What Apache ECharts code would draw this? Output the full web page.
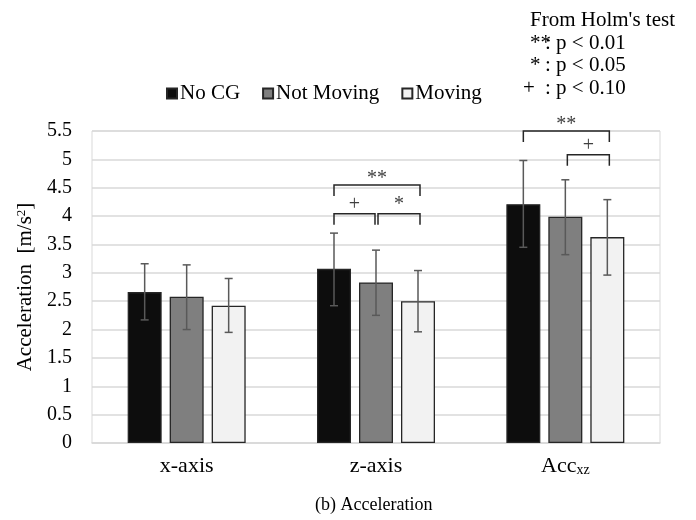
<!DOCTYPE html>
<html>
<head>
<meta charset="utf-8">
<script src="https://cdn.jsdelivr.net/npm/echarts@6/dist/echarts.min.js"></script>
<style>html,body{margin:0;padding:0;background:#fff}#c{width:696px;height:520px}</style>
</head>
<body>
<div id="c"></div>
<script>
// ---- data ----
var categories = ['x-axis', 'z-axis', 'Acc'];
var seriesNames = ['No CG', 'Not Moving', 'Moving'];
var noCG = [2.66, 3.07, 4.21];
var notMoving = [2.58, 2.83, 3.99];
var moving = [2.42, 2.50, 3.63];
var noCGErr = [[2.17, 3.16], [2.42, 3.70], [3.45, 4.98]];
var notMovingErr = [[2.00, 3.14], [2.25, 3.40], [3.32, 4.64]];
var movingErr = [[1.95, 2.90], [1.96, 3.04], [2.96, 4.29]];
var yTicks = [0, 0.5, 1, 1.5, 2, 2.5, 3, 3.5, 4, 4.5, 5, 5.5];
// brackets: [category, fromBar, toBar, topValue, label]
var brackets = [
  [1, 0, 2, 4.55, '**'],
  [1, 0, 1, 4.04, '+'],
  [1, 1, 2, 4.04, '*'],
  [2, 0, 2, 5.50, '**'],
  [2, 1, 2, 5.08, '+']
];
var noteLines = [['', "From Holm's test"], ['**', ': p < 0.01'], ['*', ': p < 0.05'], ['+', ': p < 0.10']];

// ---- style ----
var FONT = 'Liberation Serif';
var colors = ['#0d0d0d', '#7f7f7f', '#f2f2f2'];
var BAR_W = 34, GAP_PX = 8;
var STEP = BAR_W + GAP_PX;

var values = [noCG, notMoving, moving];
var errs = [noCGErr, notMovingErr, movingErr];

var series = [];
seriesNames.forEach(function (n, i) {
  series.push({
    name: n, type: 'bar', data: values[i],
    barWidth: BAR_W, barGap: (GAP_PX / BAR_W * 100) + '%',
    itemStyle: { color: colors[i], borderColor: '#262626', borderWidth: 1.3 },
    z: 2
  });
});
seriesNames.forEach(function (n, i) {
  series.push({
    type: 'custom', name: n + ' err', silent: true, z: 5,
    data: errs[i].map(function (e, k) { return [k, e[0], e[1]]; }),
    renderItem: function (params, api) {
      var lo = api.coord([api.value(0), api.value(1)]);
      var hi = api.coord([api.value(0), api.value(2)]);
      var x = lo[0] + (i - 1) * STEP;
      var st = { stroke: '#595959', lineWidth: 1.5 };
      return { type: 'group', children: [
        { type: 'line', shape: { x1: x, y1: lo[1], x2: x, y2: hi[1] }, style: st },
        { type: 'line', shape: { x1: x - 4, y1: lo[1], x2: x + 4, y2: lo[1] }, style: st },
        { type: 'line', shape: { x1: x - 4, y1: hi[1], x2: x + 4, y2: hi[1] }, style: st }
      ]};
    }
  });
});
series.push({
  type: 'custom', name: 'brackets', silent: true, z: 6,
  data: brackets.map(function (b) { return [b[0], b[1], b[2], b[3]]; }),
  renderItem: function (params, api) {
    var b = brackets[params.dataIndex];
    var p = api.coord([api.value(0), api.value(3)]);
    var x1 = p[0] + (b[1] - 1) * STEP;
    var x2 = p[0] + (b[2] - 1) * STEP;
    if (b[2] - b[1] === 1) {
      if (b[1] === 1) x1 += 2;
      if (b[2] === 1) x2 -= 1;
    }
    if (b[2] === 2) x2 += 2;
    var y = p[1], drop = 11;
    var st = { stroke: '#262626', lineWidth: 1.5, fill: null };
    return { type: 'group', children: [
      { type: 'polyline', shape: { points: [[x1, y + drop], [x1, y], [x2, y], [x2, y + drop]] }, style: st },
      { type: 'text', style: { text: b[4], x: (x1 + x2) / 2, y: y + (b[4] === '**' ? 4 : 1), textAlign: 'center', textVerticalAlign: 'bottom', font: '20px "' + FONT + '"', fill: '#404040' } }
    ]};
  }
});

var graphics = [];
noteLines.forEach(function (l, i) {
  var y = 21 + i * 22.5;
  if (l[0]) graphics.push({ type: 'text', left: l[0] === '+' ? 523 : 530, top: y - 11, style: { text: l[0], font: '21px "' + FONT + '"', fill: '#000' } });
  graphics.push({ type: 'text', left: i === 0 ? 530 : 545, top: y - 11, style: { text: l[1], font: '21px "' + FONT + '"', fill: '#000' } });
});
graphics.push({ type: 'text', left: 315, top: 496, style: { text: '(b) Acceleration', font: '18px "' + FONT + '"', fill: '#000' } });

var chart = echarts.init(document.getElementById('c'), null, { renderer: 'canvas' });
chart.setOption({
  animation: false,
  backgroundColor: '#fff',
  textStyle: { fontFamily: FONT },
  grid: { left: 92, right: 36, top: 131, bottom: 77, show: true, borderColor: '#d9d9d9', borderWidth: 1 },
  legend: {
    data: seriesNames, left: 161, top: 78, icon: 'rect', itemWidth: 10, itemHeight: 10, itemGap: 22,
    textStyle: { fontFamily: FONT, fontSize: 21, color: '#000', padding: [0, 0, 0, -2] }
  },
  xAxis: {
    type: 'category', data: categories,
    axisLine: { lineStyle: { color: '#d9d9d9', width: 1.5 } }, axisTick: { show: false },
    axisLabel: {
      margin: 12, fontSize: 22, color: '#000', fontFamily: FONT,
      formatter: function (v) { return v === 'Acc' ? 'Acc{sub|xz}' : v; },
      rich: { sub: { fontSize: 14, fontFamily: FONT, color: '#000', verticalAlign: 'bottom', padding: [8, 0, 0, 0] } }
    }
  },
  yAxis: {
    type: 'value', min: 0, max: 5.5, interval: 0.5,
    name: 'Acceleration  [m/s{sup|2}]', nameLocation: 'middle', nameGap: 53,
    nameTextStyle: { fontSize: 21, color: '#000', fontFamily: FONT,
      rich: { sup: { fontSize: 13, fontFamily: FONT, color: '#000', verticalAlign: 'top', padding: [0, 0, 8, 0] } } },
    axisLine: { show: false }, axisTick: { show: false },
    axisLabel: { margin: 20, fontSize: 20, color: '#000', fontFamily: FONT,
      formatter: function (v) { return yTicks.indexOf(v) >= 0 ? String(v) : ''; } },
    splitLine: { lineStyle: { color: '#d9d9d9', width: 1.5 } }
  },
  series: series,
  graphic: graphics
});
</script>
</body>
</html>
